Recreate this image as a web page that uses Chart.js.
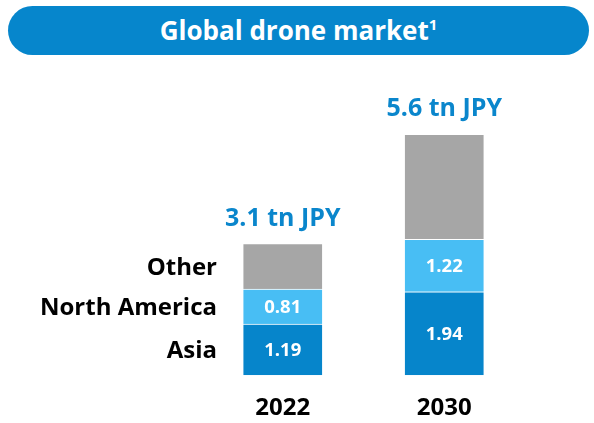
<!DOCTYPE html>
<html>
<head>
<meta charset="utf-8">
<script src="https://cdn.jsdelivr.net/npm/chart.js@4.4.0/dist/chart.umd.min.js"></script>
<style>
  html, body { margin: 0; padding: 0; background: #fff; }
  #wrap { position: relative; width: 594px; height: 423px; overflow: hidden; }
  #banner {
    position: absolute; left: 8px; top: 6px; width: 581px; height: 49px;
    background: #0686cc; border-radius: 25px; color: #fff;
    font: bold 26px "Open Sans", sans-serif; text-align: center; line-height: 48px;
  }
  #banner sup { font-size: 15px; vertical-align: 10px; line-height: 0; }
  canvas { position: absolute; left: 0; top: 0; }
</style>
</head>
<body>
<div id="wrap">
  <div id="banner">Global drone market<sup>1</sup></div>
  <canvas id="chart" width="594" height="423"></canvas>
</div>
<script>
// chart data
const years = ['2022', '2030'];
const asia = [1.19, 1.94];
const northAmerica = [0.81, 1.22];
const other = [1.06, 2.44];
const totalLabels = ['3.1 tn JPY', '5.6 tn JPY'];
const seriesNames = ['Asia', 'North America', 'Other'];

const FONT = '"Open Sans", sans-serif';

// draws value labels, series names and totals
const labelPlugin = {
    id: 'labels',
    afterDatasetsDraw(chart) {
        const ctx = chart.ctx;
        ctx.save();
        chart.data.datasets.forEach((ds, i) => {
            const meta = chart.getDatasetMeta(i);
            meta.data.forEach((el, j) => {
                const mid = (el.y + el.base) / 2;
                if (ds.showValue) {
                    ctx.fillStyle = '#fff';
                    ctx.font = 'bold 18.5px ' + FONT;
                    ctx.textAlign = 'center';
                    ctx.textBaseline = 'middle';
                    ctx.fillText(ds.data[j].toFixed(2), el.x, mid + 1);
                }
                if (j === 0) {
                    ctx.fillStyle = '#000';
                    ctx.font = 'bold 24px ' + FONT;
                    ctx.textAlign = 'right';
                    ctx.textBaseline = 'middle';
                    ctx.fillText(ds.label, 217, mid + 2);
                }
            });
        });
        const topMeta = chart.getDatasetMeta(chart.data.datasets.length - 1);
        topMeta.data.forEach((el, j) => {
            ctx.fillStyle = '#0a86cc';
            ctx.font = 'bold 25px ' + FONT;
            ctx.textAlign = 'center';
            ctx.textBaseline = 'alphabetic';
            ctx.fillText(totalLabels[j], el.x, el.y - 18);
        });
        ctx.restore();
    }
};

const ctx = document.getElementById('chart').getContext('2d');
const chart = new Chart(ctx, {
    type: 'bar',
    data: {
        labels: years,
        datasets: [
            { label: seriesNames[0], data: asia, backgroundColor: '#0685cb', showValue: true },
            { label: seriesNames[1], data: northAmerica, backgroundColor: '#48bef4', showValue: true },
            { label: seriesNames[2], data: other, backgroundColor: '#a6a6a6', showValue: false }
        ].map(d => Object.assign(d, { barThickness: 80, borderColor: '#fff', borderWidth: 1, borderSkipped: 'start' }))
    },
    options: {
        responsive: false,
        animation: false,
        layout: { padding: { left: 202, right: 69, top: 74, bottom: -19 } },
        plugins: { legend: { display: false }, tooltip: { enabled: false } },
        scales: {
            x: {
                stacked: true,
                grid: { display: false, drawTicks: false },
                border: { display: false },
                ticks: { color: '#000', padding: 19, font: { family: FONT, size: 24, weight: 'bold' } }
            },
            y: { stacked: true, display: false, min: 0, max: 7 }
        }
    },
    plugins: [labelPlugin]
});
</script>
</body>
</html>
